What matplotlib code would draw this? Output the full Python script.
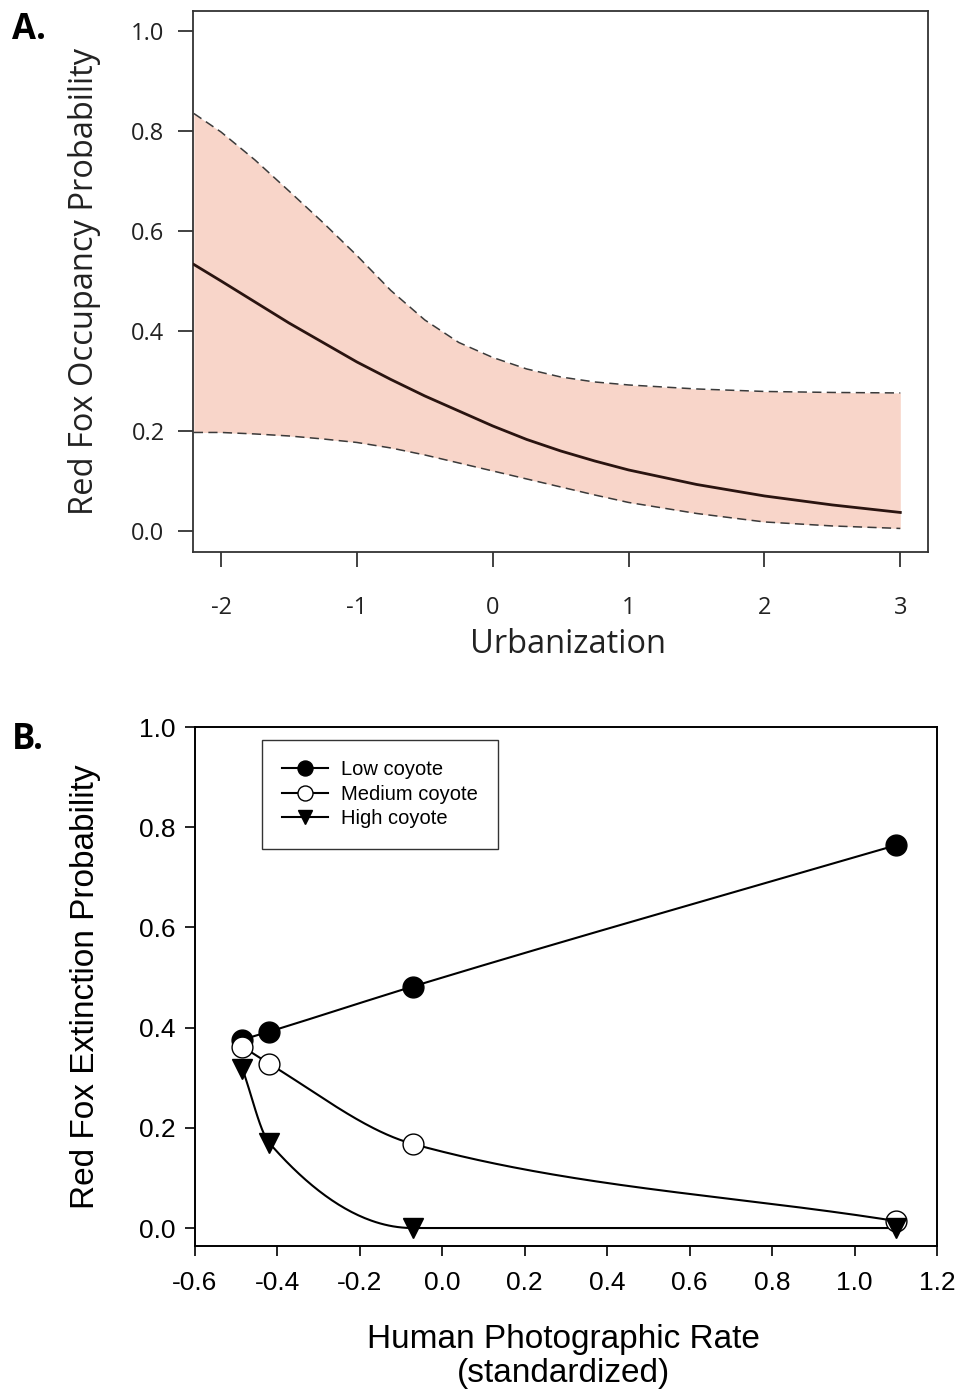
import numpy as np
import matplotlib
matplotlib.use("Agg")
import matplotlib.pyplot as plt
from matplotlib.lines import Line2D

# ---------------- Panel A data ----------------
urban_x = [-2.2, -2.0, -1.75, -1.5, -1.25, -1.0, -0.75, -0.5, -0.25, 0.0,
           0.25, 0.5, 0.75, 1.0, 1.5, 2.0, 2.5, 3.0]
occ_mean = [0.533, 0.500, 0.458, 0.416, 0.377, 0.338, 0.303, 0.270, 0.240, 0.210,
            0.183, 0.160, 0.140, 0.122, 0.093, 0.070, 0.052, 0.037]
occ_upper = [0.835, 0.798, 0.742, 0.680, 0.617, 0.551, 0.481, 0.422, 0.377, 0.347,
             0.324, 0.308, 0.298, 0.292, 0.284, 0.279, 0.277, 0.276]
occ_lower = [0.197, 0.197, 0.194, 0.190, 0.184, 0.177, 0.166, 0.152, 0.136, 0.120,
             0.104, 0.088, 0.072, 0.057, 0.035, 0.018, 0.010, 0.005]
a_xticks = [-2, -1, 0, 1, 2, 3]
a_yticks = [0.0, 0.2, 0.4, 0.6, 0.8, 1.0]

# ---------------- Panel B data ----------------
photo_x = [-0.485, -0.42, -0.072, 1.10]
low_coyote = [0.376, 0.392, 0.482, 0.764]
med_coyote = [0.362, 0.328, 0.168, 0.014]
high_coyote = [0.318, 0.170, 0.000, 0.000]
series_labels = ["Low coyote", "Medium coyote", "High coyote"]
b_xticks = [-0.6, -0.4, -0.2, 0.0, 0.2, 0.4, 0.6, 0.8, 1.0, 1.2]
b_yticks = [0.0, 0.2, 0.4, 0.6, 0.8, 1.0]


def smooth_curve(x, y, n=300):
    """Monotone piecewise-cubic (Fritsch-Carlson) curve through the points."""
    x = np.asarray(x, float)
    y = np.asarray(y, float)
    h = np.diff(x)
    d = np.diff(y) / h
    k = len(x)
    m = np.zeros(k)
    for i in range(1, k - 1):
        if d[i - 1] * d[i] <= 0:
            m[i] = 0.0
        else:
            w1 = 2 * h[i] + h[i - 1]
            w2 = h[i] + 2 * h[i - 1]
            m[i] = (w1 + w2) / (w1 / d[i - 1] + w2 / d[i])
    m[0] = d[0]
    m[-1] = d[-1]
    xs = np.linspace(x[0], x[-1], n)
    ys = np.empty_like(xs)
    for j, xv in enumerate(xs):
        i = int(np.clip(np.searchsorted(x, xv) - 1, 0, k - 2))
        t = (xv - x[i]) / h[i]
        h00 = 2 * t ** 3 - 3 * t ** 2 + 1
        h10 = t ** 3 - 2 * t ** 2 + t
        h01 = -2 * t ** 3 + 3 * t ** 2
        h11 = t ** 3 - t ** 2
        ys[j] = h00 * y[i] + h10 * h[i] * m[i] + h01 * y[i + 1] + h11 * h[i] * m[i + 1]
    return xs, ys


fig = plt.figure(figsize=(9.7, 13.91), dpi=100)

# ================= Panel A =================
fontA = "Open Sans"
axA = fig.add_axes([0.199, 0.6032, 0.758, 0.3889])
axA.fill_between(urban_x, occ_lower, occ_upper, color="#f8d5c9", lw=0, zorder=1)
axA.plot(urban_x, occ_upper, color="#3a3a3a", lw=1.1, ls=(0, (6, 3.5)), zorder=2)
axA.plot(urban_x, occ_lower, color="#3a3a3a", lw=1.1, ls=(0, (6, 3.5)), zorder=2)
axA.plot(urban_x, occ_mean, color="#2a1410", lw=2.0, zorder=3)
axA.set_xlim(-2.206, 3.206)
axA.set_ylim(-0.042, 1.04)
axA.set_xticks(a_xticks)
axA.set_xticklabels([str(v) for v in a_xticks], fontfamily=fontA, fontsize=17, color="#222222")
axA.set_yticks(a_yticks)
axA.set_yticklabels([f"{v:.1f}" for v in a_yticks], fontfamily=fontA, fontsize=17, color="#222222")
for s in axA.spines.values():
    s.set_color("#333333")
    s.set_linewidth(1.3)
axA.tick_params(direction="out", length=10.5, width=1.3, color="#333333")
axA.tick_params(axis="y", pad=10)
axA.tick_params(axis="x", pad=21)
axA.set_xlabel("Urbanization", fontfamily=fontA, fontsize=23.5, color="#222222", va="center")
axA.xaxis.set_label_coords(0.51, -0.172)
axA.set_ylabel("Red Fox Occupancy Probability", fontfamily=fontA, fontsize=23.5,
               color="#222222", va="center")
axA.yaxis.set_label_coords(-0.147, 0.5)
fig.text(12 / 970, 1 - 30 / 1391, "A.", fontfamily=fontA, fontweight="bold",
         fontsize=25, va="center", ha="left")

# ================= Panel B =================
fontB = "Liberation Sans"
axB = fig.add_axes([0.201, 0.1042, 0.765, 0.3731])
styles = [
    dict(marker="o", mfc="black", mec="black", ms=15),
    dict(marker="o", mfc="white", mec="black", ms=15, mew=1.0),
    dict(marker="v", mfc="black", mec="black", ms=14),
]
for yv, lab, st in zip([low_coyote, med_coyote, high_coyote], series_labels, styles):
    xs, ys = smooth_curve(photo_x, yv)
    axB.plot(xs, ys, color="black", lw=1.5, zorder=2)
    axB.plot(photo_x, yv, ls="None", label=lab, zorder=3, **st)

leg_handles = [Line2D([], [], color="black", lw=1.5, **st) for st in styles]
leg = axB.legend(leg_handles, series_labels, loc="upper left",
                 bbox_to_anchor=(0.0903, 0.975), borderaxespad=0,
                 prop={"family": fontB, "size": 14.5}, frameon=True, fancybox=False,
                 edgecolor="black", markerscale=0.72, handlelength=2.3,
                 handletextpad=0.6, labelspacing=0.28, borderpad=1.0)
leg.get_frame().set_linewidth(1.0)

axB.set_xlim(-0.6, 1.2)
axB.set_ylim(-0.036, 1.0)
axB.set_xticks(b_xticks)
axB.set_xticklabels([f"{v:.1f}" for v in b_xticks], fontfamily=fontB, fontsize=19)
axB.set_yticks(b_yticks)
axB.set_yticklabels([f"{v:.1f}" for v in b_yticks], fontfamily=fontB, fontsize=19)
for s in axB.spines.values():
    s.set_color("black")
    s.set_linewidth(1.4)
axB.tick_params(direction="out", length=7, width=1.2, color="black", pad=7)
axB.tick_params(axis="x", pad=11)
axB.set_xlabel("Human Photographic Rate\n(standardized)", fontfamily=fontB, fontsize=24,
               va="center", linespacing=1.12)
axB.xaxis.set_label_coords(0.497, -0.212)
axB.set_ylabel("Red Fox Extinction Probability", fontfamily=fontB, fontsize=24, va="center")
axB.yaxis.set_label_coords(-0.148, 0.5)
fig.text(12 / 970, 1 - 740 / 1391, "B.", fontfamily=fontA, fontweight="bold",
         fontsize=25, va="center", ha="left")

fig.savefig("out.png", dpi=100)
